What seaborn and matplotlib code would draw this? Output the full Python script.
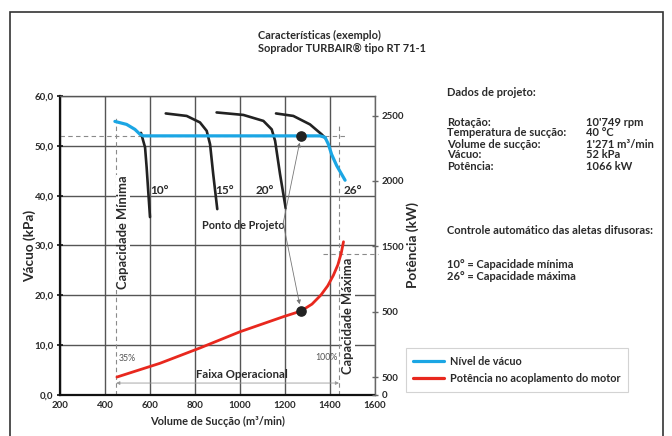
import matplotlib
matplotlib.use("Agg")
import matplotlib.pyplot as plt
from matplotlib.lines import Line2D
from matplotlib.patches import Rectangle
import seaborn as sns

# curvas das aletas difusoras (m3/min, kPa)
x_10 = [560, 578, 585, 592, 600]
y_10 = [52.6, 49.7, 45.7, 41.0, 35.7]
x_15 = [670, 763, 822, 852, 867, 881, 899]
y_15 = [56.5, 56.0, 54.7, 53.0, 50.3, 44.3, 37.3]
x_20 = [896, 1015, 1104, 1141, 1156, 1178, 1203]
y_20 = [56.7, 56.2, 55.0, 53.3, 51.0, 44.3, 37.5]
x_26 = [1160, 1237, 1311, 1363, 1380]
y_26 = [56.5, 56.0, 54.3, 52.3, 51.5]

# nivel de vacuo (kPa)
x_vac = [444, 496, 533, 556, 570, 1356, 1378, 1393, 1407, 1430, 1467]
y_vac = [54.9, 54.3, 53.3, 52.3, 52.0, 52.0, 51.7, 50.3, 48.3, 46.0, 43.1]

# potencia no acoplamento (kW)
x_pot = [453, 644, 822, 1000, 1193, 1271, 1320, 1360, 1390, 1415, 1435, 1450, 1460]
y_pot = [503, 608, 725, 849, 964, 1007, 1060, 1130, 1200, 1280, 1360, 1450, 1536]

# ponto de projeto
proj_x = 1271
proj_vac = 52
proj_pot = 1007

cap_min = 450
cap_max = 1440
pot_max = 1442

x_ticks = [200, 400, 600, 800, 1000, 1200, 1400, 1600]
y_ticks = [0, 10, 20, 30, 40, 50, 60]
y_labels = ["0,0", "10,0", "20,0", "30,0", "40,0", "50,0", "60,0"]
y2_ticks = [366, 500, 1000, 1500, 2000, 2500]
y2_labels = ["0", "500", "500", "1500", "2000", "2500"]

angulos = ["10°", "15°", "20°", "26°"]
angulos_x = [644, 933, 1111, 1502]

dados_nomes = ["Rotação:", "Temperatura de sucção:", "Volume de sucção:", "Vácuo:", "Potência:"]
dados_valores = ["10'749 rpm", "40 °C", "1'271 m³/min", "52 kPa", "1066 kW"]

AZUL = "#1ba6e4"
VERMELHO = "#e8281e"
PRETO = "#222222"
TXT = "#2a2a2a"

sns.set_theme(style="white")
plt.rcParams["font.family"] = ["Lato", "DejaVu Sans"]
plt.rcParams["font.weight"] = "bold"
plt.rcParams["axes.labelweight"] = "bold"

fig = plt.figure(figsize=(6.72, 4.36), dpi=100)
ax = fig.add_axes([60 / 672, 1 - 395 / 436, 315 / 672, 299 / 436])
ax2 = ax.twinx()

ax.set_xlim(200, 1600)
ax.set_ylim(0, 60)
ax2.set_ylim(366, 2649)

ax.set_xticks(x_ticks)
ax.set_xticklabels([str(t) for t in x_ticks])
ax.set_yticks(y_ticks)
ax.set_yticklabels(y_labels)
ax2.set_yticks(y2_ticks)
ax2.set_yticklabels(y2_labels)

ax.grid(True, color="#555555", lw=1.0)
ax.set_axisbelow(True)
for s in ["left", "bottom"]:
    ax.spines[s].set_color("#111111")
    ax.spines[s].set_linewidth(1.6)
ax.spines["top"].set_color("#555555")
ax.spines["top"].set_linewidth(1.0)
for s in ["left", "bottom", "top"]:
    ax2.spines[s].set_visible(False)
ax2.spines["right"].set_color("#666666")
ax2.spines["right"].set_linewidth(1.0)
ax.spines["right"].set_visible(False)

ax.tick_params(axis="both", direction="inout", length=5, width=1.2, color="#111111",
               labelsize=7, labelcolor=TXT, pad=2)
ax2.tick_params(axis="y", direction="inout", length=5, width=1.0, color="#666666",
                labelsize=7, labelcolor=TXT, pad=2)

# linhas tracejadas de referencia
dash = dict(color="#8a8a8a", lw=0.8, ls=(0, (4, 3)))
ax.plot([200, 1475], [proj_vac, proj_vac], **dash)
ax.plot([cap_min, cap_min], [0, 56], **dash)
ax.plot([cap_max, cap_max], [0, 54.4], **dash)
ax2.plot([1370, 1612], [pot_max, pot_max], clip_on=False, **dash)

# curvas das aletas
for xs, ys in [(x_10, y_10), (x_15, y_15), (x_20, y_20), (x_26, y_26)]:
    sns.lineplot(x=xs, y=ys, ax=ax, color=PRETO, lw=1.9, sort=False, estimator=None)

sns.lineplot(x=x_vac, y=y_vac, ax=ax, color=AZUL, lw=2.3, sort=False, estimator=None)
sns.lineplot(x=x_pot, y=y_pot, ax=ax2, color=VERMELHO, lw=2.0, sort=False, estimator=None)

ax.scatter([proj_x], [proj_vac], s=44, color=PRETO, zorder=5)
ax2.scatter([proj_x], [proj_pot], s=44, color=PRETO, zorder=5)

for a, xa in zip(angulos, angulos_x):
    ax.text(xa, 41, a, ha="center", va="center", fontsize=8.5, color=TXT)

ax.text(1015, 34, "Ponto de Projeto", ha="center", va="center", fontsize=7.8, color=TXT)
arr = dict(arrowstyle="-|>", color="#777777", lw=0.6, mutation_scale=6, shrinkA=0, shrinkB=5)
ax.annotate("", xy=(proj_x, proj_vac), xytext=(1192, 34.5), arrowprops=arr)
ax.annotate("", xy=(proj_x, proj_pot), xycoords=ax2.transData, xytext=(1192, 34.5),
            textcoords="data", arrowprops=arr)

bg = dict(facecolor="white", edgecolor="none", pad=0.6)
ax.text(480, 32.6, "Capacidade Mínima", rotation=90, ha="center", va="center",
        fontsize=9.3, color=TXT, bbox=bg)
ax.text(1482, 15.8, "Capacidade Máxima", rotation=90, ha="center", va="center",
        fontsize=9.3, color=TXT, bbox=bg)

ax.text(462, 7.4, "35%", ha="left", va="center", fontsize=6.3, color="#555555", fontweight="normal")
ax.text(1432, 7.6, "100%", ha="right", va="center", fontsize=6.3, color="#555555", fontweight="normal")
ax.text(1010, 4.1, "Faixa Operacional", ha="center", va="center", fontsize=8.2, color=TXT)
ax.annotate("", xy=(cap_min, 2.4), xytext=(cap_max, 2.4),
            arrowprops=dict(arrowstyle="<|-|>", color="#999999", lw=0.6, mutation_scale=5,
                            shrinkA=0, shrinkB=0))

ax.set_xlabel("Volume de Sucção (m³/min)", fontsize=7.9, color=TXT, labelpad=4)
ax.set_ylabel("Vácuo (kPa)", fontsize=9.8, color=TXT, labelpad=-1)
ax2.set_ylabel("Potência (kW)", fontsize=9.8, color=TXT, labelpad=2)

# titulo
fig.text(258 / 672, 1 - 35 / 436, "Características (exemplo)", ha="left", va="center",
         fontsize=7.9, color=TXT)
fig.text(258 / 672, 1 - 48 / 436, "Soprador TURBAIR® tipo RT 71-1", ha="left", va="center",
         fontsize=7.9, color=TXT)

# dados de projeto
fs_p = 8.0
fig.text(447 / 672, 1 - 92 / 436, "Dados de projeto:", ha="left", va="center", fontsize=fs_p, color=TXT)
for i, (n, v) in enumerate(zip(dados_nomes, dados_valores)):
    yy = 1 - (122 + i * 11) / 436
    fig.text(447 / 672, yy, n, ha="left", va="center", fontsize=fs_p, color=TXT)
    fig.text(586 / 672, yy, v, ha="left", va="center", fontsize=fs_p, color=TXT)
fig.text(447 / 672, 1 - 230 / 436, "Controle automático das aletas difusoras:", ha="left",
         va="center", fontsize=fs_p, color=TXT)
fig.text(447 / 672, 1 - 264 / 436, "10° = Capacidade mínima", ha="left", va="center",
         fontsize=fs_p, color=TXT)
fig.text(447 / 672, 1 - 276 / 436, "26° = Capacidade máxima", ha="left", va="center",
         fontsize=fs_p, color=TXT)

handles = [Line2D([], [], color=AZUL, lw=2.3), Line2D([], [], color=VERMELHO, lw=2.3)]
leg = fig.legend(handles, ["Nível de vácuo", "Potência no acoplamento do motor"],
                 loc="center", bbox_to_anchor=(517 / 672, 1 - 370 / 436), fontsize=7.8,
                 frameon=True, fancybox=False, handlelength=2.8, borderpad=0.7,
                 labelspacing=0.55, handletextpad=0.6)
leg.get_frame().set_edgecolor("#c8c8c8")
leg.get_frame().set_linewidth(0.8)
for t in leg.get_texts():
    t.set_color(TXT)

fig.patches.append(Rectangle((10 / 672, -0.1), 653 / 672, 1.1 - 12 / 436,
                             transform=fig.transFigure, fill=False, edgecolor="#333333",
                             lw=1.2, clip_on=False))

fig.savefig("out.png", dpi=100)
